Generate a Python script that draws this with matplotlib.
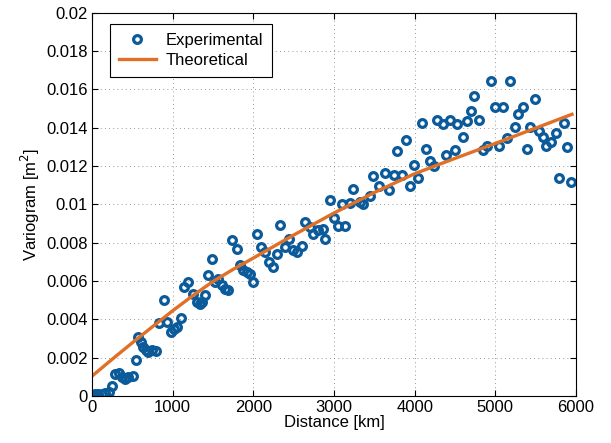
import matplotlib
matplotlib.use("Agg")
import matplotlib.pyplot as plt
from matplotlib.ticker import FuncFormatter

plt.rcParams['font.family'] = ['Liberation Sans', 'DejaVu Sans']

# experimental variogram (lag distance in km, semivariance in m^2)
lag_km = [0, 40, 80, 125, 165, 205, 245, 285, 330, 368, 409, 450, 504, 545,
          574, 605, 636, 669, 698, 740, 795, 834, 892, 933, 978, 1012, 1050,
          1099, 1140, 1193, 1248, 1297, 1338, 1365, 1395, 1441, 1483, 1524,
          1565, 1607, 1648, 1689, 1739, 1793, 1834, 1875, 1917, 1958, 1991,
          2041, 2090, 2144, 2197, 2239, 2288, 2330, 2392, 2445, 2495, 2544,
          2598, 2639, 2701, 2742, 2804, 2859, 2887, 2950, 2995, 3045, 3094,
          3135, 3197, 3238, 3321, 3362, 3445, 3486, 3555, 3631, 3684, 3740,
          3787, 3838, 3891, 3941, 3995, 4044, 4090, 4139, 4188, 4238, 4279,
          4346, 4387, 4436, 4498, 4527, 4601, 4643, 4693, 4734, 4796, 4841,
          4891, 4941, 4994, 5047, 5097, 5146, 5188, 5242, 5283, 5337, 5387,
          5428, 5489, 5543, 5585, 5634, 5696, 5750, 5791, 5853, 5894, 5944]
gamma_exp = [0.00005, 0.0001, 0.0001, 0.00012, 0.00015, 0.0002, 0.0005,
             0.00115, 0.00118, 0.00100, 0.00090, 0.00098, 0.00104, 0.00188,
             0.00306, 0.00283, 0.00257, 0.00240, 0.00231, 0.00240, 0.00236,
             0.00379, 0.00500, 0.00387, 0.00335, 0.00352, 0.00361, 0.00405,
             0.00569, 0.00595, 0.00535, 0.00491, 0.00482, 0.00491, 0.00526,
             0.00630, 0.00717, 0.00595, 0.00613, 0.00578, 0.00561, 0.00552,
             0.00813, 0.00769, 0.00682, 0.00656, 0.00647, 0.00639, 0.00595,
             0.00844, 0.00778, 0.00752, 0.00700, 0.00673, 0.00743, 0.00890,
             0.00778, 0.00820, 0.00760, 0.00752, 0.00781, 0.00908, 0.00882,
             0.00847, 0.00865, 0.00873, 0.00821, 0.01024, 0.00930, 0.00888,
             0.01003, 0.00888, 0.01007, 0.01082, 0.01013, 0.01000, 0.01042,
             0.01146, 0.01095, 0.01163, 0.01076, 0.01151, 0.01278, 0.01151,
             0.01337, 0.01094, 0.01207, 0.01137, 0.01424, 0.01290, 0.01226,
             0.01198, 0.01438, 0.01420, 0.01260, 0.01438, 0.01285, 0.01420,
             0.01354, 0.01434, 0.01486, 0.01568, 0.01441, 0.01285, 0.01302,
             0.01646, 0.01507, 0.01302, 0.01507, 0.01347, 0.01646, 0.01406,
             0.01472, 0.01507, 0.01290, 0.01403, 0.01550, 0.01385, 0.01350,
             0.01307, 0.01325, 0.01371, 0.01139, 0.01424, 0.01299, 0.01116]

# fitted model
model_km = [0, 250, 500, 750, 1000, 1250, 1500, 1750, 2000, 2500, 3000, 3500,
            4000, 4500, 5000, 5500, 5950]
gamma_model = [0.00104, 0.00192, 0.00278, 0.00362, 0.00445, 0.00524, 0.00598,
               0.00661, 0.00720, 0.00840, 0.00955, 0.01062, 0.01160, 0.01240,
               0.01318, 0.01398, 0.01470]

fig = plt.figure(figsize=(6.11, 4.43), dpi=100)
ax = fig.add_axes([0.1506, 0.106, 0.7921, 0.8653])

ax.plot(lag_km, gamma_exp, 'o', linestyle='none', markersize=5.6,
        markerfacecolor='none', markeredgecolor='#0b5a9a', markeredgewidth=2.3,
        label='Experimental')
ax.plot(model_km, gamma_model, '-', color='#e07026', linewidth=2.4,
        label='Theoretical')

ax.set_xlim(0, 6000)
ax.set_ylim(0, 0.02)
ax.set_xticks(range(0, 6001, 1000))
ax.set_yticks([i * 0.002 for i in range(11)])
ax.yaxis.set_major_formatter(FuncFormatter(lambda v, p: '%g' % round(v, 4)))

ax.grid(True, linestyle=(0, (1, 4)), color='#777777', linewidth=0.6)
ax.tick_params(direction='in', top=True, right=True, labelsize=12, length=4,
               width=0.8, pad=3)
for s in ax.spines.values():
    s.set_linewidth(0.8)

ax.set_xlabel('Distance [km]', fontsize=12, labelpad=0)
ax.set_ylabel('Variogram [m$^2$]', fontsize=12, labelpad=3)

leg = ax.legend(loc='upper left', bbox_to_anchor=(0.037, 0.971),
                borderaxespad=0, fontsize=12, fancybox=False,
                edgecolor='black', framealpha=1, handlelength=2.2,
                handletextpad=0.6, borderpad=0.55, labelspacing=0.3)
leg.get_frame().set_linewidth(0.8)

fig.savefig('out.png', dpi=100)
